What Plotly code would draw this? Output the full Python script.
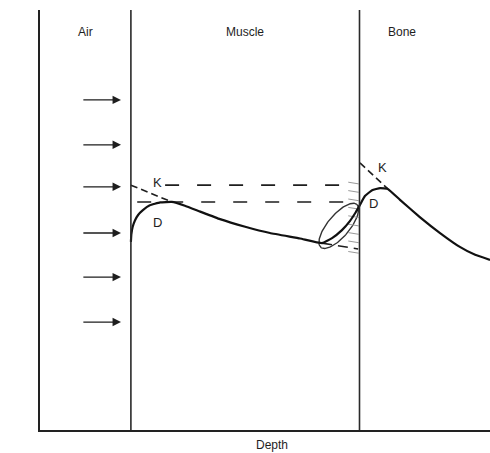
import numpy as np
import plotly.graph_objects as go

# Depth axis (arbitrary units) and K/D axis (arbitrary units)
boundary_air_muscle = 2.02
boundary_muscle_bone = 7.1

# Absorbed dose D across air -> muscle -> bone
depth = [2.02, 2.03, 2.06, 2.11, 2.18, 2.28, 2.44, 2.67, 2.93, 3.22, 3.56, 4.0,
         4.56, 5.11, 5.78, 6.27, 6.49, 6.71, 6.89, 7.02, 7.11, 7.22, 7.38, 7.56,
         7.73, 8.0, 8.44, 8.89, 9.33, 9.67, 10.0]
dose = [4.48, 4.66, 4.84, 4.99, 5.12, 5.23, 5.35, 5.42, 5.43, 5.34, 5.2, 5.02,
        4.84, 4.69, 4.56, 4.45, 4.57, 4.76, 4.98, 5.19, 5.36, 5.57, 5.71, 5.76,
        5.74, 5.48, 5.07, 4.69, 4.36, 4.17, 4.05]

# Kerma K (dashed) at each interface, meeting D at equilibrium
kerma_muscle_x = [2.02, 2.93]
kerma_muscle_y = [5.83, 5.43]
kerma_bone_x = [7.11, 7.73]
kerma_bone_y = [6.36, 5.74]

# Horizontal dashed guides carried across the muscle
guide_levels = [5.83, 5.43]
guide_starts = [2.78, 2.16]
guide_end = 7.02
low_guide_x = [6.27, 7.07]
low_guide_y = [4.45, 4.31]

# Incident beam arrows in air
arrow_y = [7.86, 6.79, 5.79, 4.69, 3.64, 2.57]
arrow_x0, arrow_x1 = 0.93, 1.8

# Region labels
regions = ["Air", "Muscle", "Bone"]
region_x = [1.0, 4.55, 8.05]
region_y = 9.48

INK = "#1e1e1e"
fig = go.Figure()

dash = "14px,18px"
for lvl, x0 in zip(guide_levels, guide_starts):
    fig.add_trace(go.Scatter(x=[x0, guide_end], y=[lvl, lvl], mode="lines",
                             line=dict(color=INK, width=1.6, dash=dash),
                             hoverinfo="skip"))
fig.add_trace(go.Scatter(x=low_guide_x, y=low_guide_y, mode="lines",
                         line=dict(color=INK, width=1.6, dash="10px,6px"),
                         hoverinfo="skip"))
fig.add_trace(go.Scatter(x=kerma_muscle_x, y=kerma_muscle_y, mode="lines",
                         line=dict(color=INK, width=1.6, dash="7px,4px"),
                         hoverinfo="skip"))
fig.add_trace(go.Scatter(x=kerma_bone_x, y=kerma_bone_y, mode="lines",
                         line=dict(color=INK, width=1.6, dash="7px,4px"),
                         hoverinfo="skip"))

# Hand-drawn loop around the muscle-bone build-up region
cx, cy, a, b, ang = 6.64, 4.86, 28.0, 11.0, np.deg2rad(50)
t = np.linspace(0, 2 * np.pi, 120)
px = a * np.cos(t) * np.cos(ang) - b * np.sin(t) * np.sin(ang)
py = a * np.cos(t) * np.sin(ang) + b * np.sin(t) * np.cos(ang)
fig.add_trace(go.Scatter(x=cx + px / 45, y=cy + py / 42, mode="lines",
                         line=dict(color="#333", width=1.4), hoverinfo="skip"))

# Pencil hatch marks along the bone interface
hatch_y = [5.9, 5.7, 5.5, 5.3, 5.1, 4.9, 4.7, 4.5, 4.25]
for hy in hatch_y:
    fig.add_trace(go.Scatter(x=[6.85, 7.08], y=[hy, hy - 0.04], mode="lines",
                             line=dict(color="#9a9a9a", width=1),
                             hoverinfo="skip"))

fig.add_trace(go.Scatter(x=depth, y=dose, mode="lines",
                         line=dict(color="#111", width=2.2, shape="spline",
                                   smoothing=0.3),
                         hoverinfo="skip"))

shapes = []
for bx in [boundary_air_muscle, boundary_muscle_bone]:
    shapes.append(dict(type="line", xref="x", yref="y", x0=bx, x1=bx,
                       y0=0, y1=10, line=dict(color="#2a2a2a", width=1.6)))

annotations = []
for ay in arrow_y:
    annotations.append(dict(x=arrow_x1, y=ay, ax=arrow_x0, ay=ay,
                            xref="x", yref="y", axref="x", ayref="y",
                            showarrow=True, arrowhead=2, arrowsize=1.3,
                            arrowwidth=1.3, arrowcolor=INK, text=""))
for name, rx in zip(regions, region_x):
    annotations.append(dict(x=rx, y=region_y, xref="x", yref="y", text=name,
                            showarrow=False, font=dict(size=12, color=INK)))
for txt, tx, ty in [("K", 2.6, 5.9), ("D", 2.61, 4.95),
                    ("K", 7.6, 6.24), ("D", 7.4, 5.4)]:
    annotations.append(dict(x=tx, y=ty, xref="x", yref="y", text=txt,
                            showarrow=False, font=dict(size=13, color=INK)))
annotations.append(dict(x=-0.45, y=0.45, xref="x", yref="paper",
                        text="K or D", textangle=-90, showarrow=False,
                        font=dict(size=12, color=INK)))
annotations.append(dict(x=5.15, y=-0.036, xref="x", yref="paper",
                        text="Depth", showarrow=False, yanchor="middle",
                        font=dict(size=12, color=INK)))

fig.update_layout(
    width=490, height=453,
    margin=dict(l=40, r=0, t=10, b=23),
    paper_bgcolor="white", plot_bgcolor="white",
    showlegend=False,
    font=dict(family="Liberation Sans, Arial, sans-serif", color=INK),
    shapes=shapes, annotations=annotations,
    xaxis=dict(range=[0, 10], showgrid=False, zeroline=False,
               showticklabels=False, ticks="", showline=True,
               linecolor="#222", linewidth=1.6),
    yaxis=dict(range=[0, 10], showgrid=False, zeroline=False,
               showticklabels=False, ticks="", showline=True,
               linecolor="#222", linewidth=1.6),
)

fig.write_html("out.html")
